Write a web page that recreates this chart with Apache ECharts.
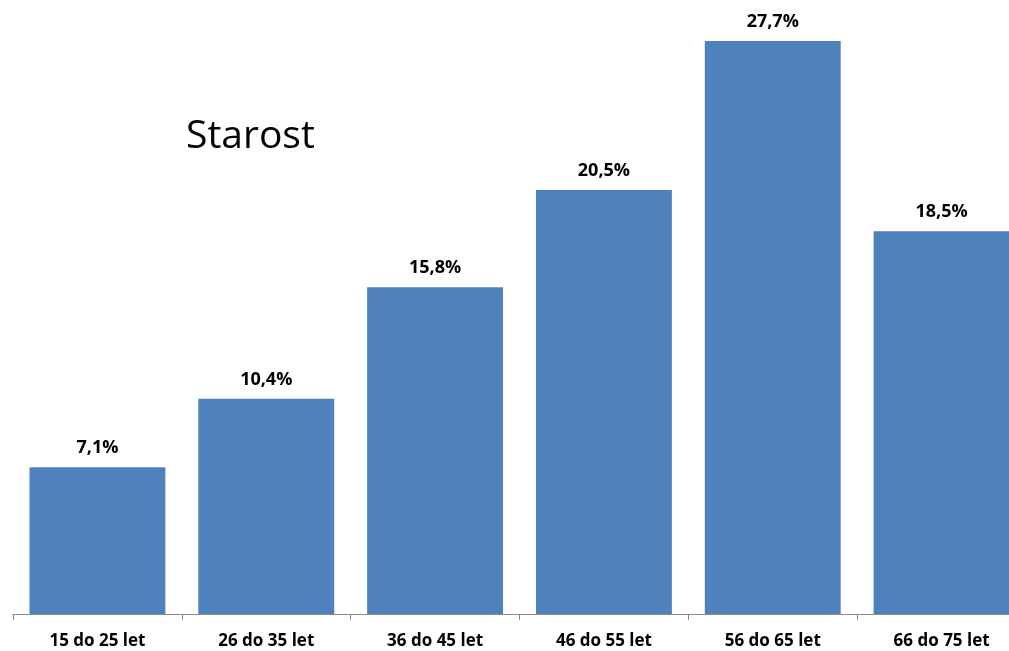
<!DOCTYPE html>
<html><head><meta charset="utf-8">
<script src="https://cdn.jsdelivr.net/npm/echarts@6/dist/echarts.min.js"></script>
<style>html,body{margin:0;padding:0;background:#fff;overflow:hidden}#c{width:1026px;height:651px}</style>
</head><body><div id="c"></div>
<script>
var categories = ['15 do 25 let','26 do 35 let','36 do 45 let','46 do 55 let','56 do 65 let','66 do 75 let'];
var values = [7.1, 10.4, 15.8, 20.5, 27.7, 18.5];
var titleText = 'Starost';
var chart = echarts.init(document.getElementById('c'));
chart.setOption({
  animation: false,
  title: { text: titleText, left: 181, top: 112, textStyle: { fontFamily: 'Open Sans', fontSize: 39, fontWeight: 'normal', color: '#000' } },
  grid: { left: 13, top: 41, right: 0, bottom: 37 },
  xAxis: {
    type: 'category', data: categories,
    axisLine: { lineStyle: { color: '#888', width: 1 } },
    axisTick: { show: true, length: 6, lineStyle: { color: '#888' } },
    axisLabel: { margin: 19, fontFamily: 'Open Sans', fontWeight: 'bold', fontSize: 17, color: '#000' }
  },
  yAxis: { type: 'value', min: 0, max: 27.7, show: false, splitLine: { show: false } },
  series: [{
    type: 'bar', data: values, barCategoryGap: '19.5%',
    itemStyle: { color: '#4F81BD' },
    label: { show: true, position: 'top', distance: 10, fontFamily: 'Open Sans', fontWeight: 'bold', fontSize: 18, color: '#000',
      formatter: function (p) { return p.value.toFixed(1).replace('.', ',') + '%'; } }
  }]
});
</script></body></html>
